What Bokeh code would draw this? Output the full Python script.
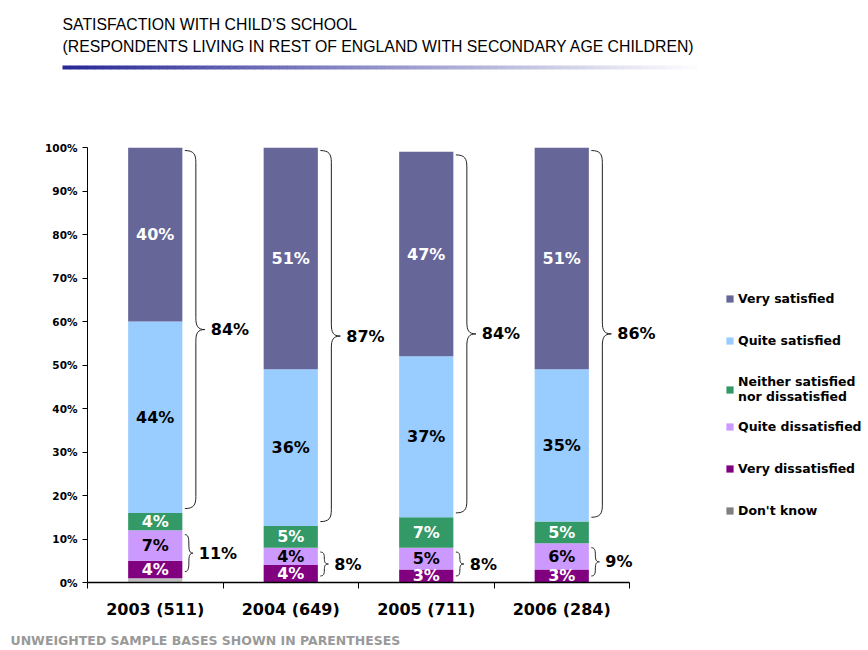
from bokeh.plotting import figure
from bokeh.models import (Range1d, FixedTicker, PrintfTickFormatter, Legend,
                          LegendItem, ColumnDataSource)
from bokeh.layouts import column
from bokeh.core.properties import value
from bokeh.embed import file_html
from bokeh.resources import INLINE

# ---------------- data ----------------
title_line1 = "SATISFACTION WITH CHILD’S SCHOOL"
title_line2 = "(RESPONDENTS LIVING IN REST OF ENGLAND WITH SECONDARY AGE CHILDREN)"
footnote = "UNWEIGHTED SAMPLE BASES SHOWN IN PARENTHESES"

categories = ["2003 (511)", "2004 (649)", "2005 (711)", "2006 (284)"]

dont_know = [1, 0, 0, 0]
very_dissatisfied = [4, 4, 3, 3]
quite_dissatisfied = [7, 4, 5, 6]
neither = [4, 5, 7, 5]
quite_satisfied = [44, 36, 37, 35]
very_satisfied = [40, 51, 47, 51]

series_keys = ["dk", "vd", "qd", "ne", "qs", "vs"]
series_names = ["Don't know", "Very dissatisfied", "Quite dissatisfied",
                "Neither satisfied\nnor dissatisfied", "Quite satisfied",
                "Very satisfied"]
series_values = [dont_know, very_dissatisfied, quite_dissatisfied, neither,
                 quite_satisfied, very_satisfied]

y_ticks = [0, 10, 20, 30, 40, 50, 60, 70, 80, 90, 100]

# ---------------- style ----------------
bar_colors = ["#C0C0C0", "#800080", "#CC99FF", "#339966", "#99CCFF", "#666699"]
legend_dk_color = "#808080"
label_colors = [None, "#FFFFFF", "#000000", "#FFFFFF", "#000000", "#FFFFFF"]
BOLD = value("DejaVu Sans")

W = 866
HEADER_H = 78
FRAME_L = 87
FRAME_T = 69            # inside the main figure
FRAME_H = 435
BOTTOM_B = 42
MAIN_H = FRAME_T + FRAME_H + BOTTOM_B
FOOT_H = 25
CAT_PX = 135.5          # pixels per category
BAR_W = 0.4
XMAX = (W - FRAME_L) / CAT_PX
Y_PX = FRAME_H / 100.0  # pixels per percent

# ---------------- header ----------------
hdr = figure(width=W, height=HEADER_H, x_range=Range1d(0, W),
             y_range=Range1d(HEADER_H, 0), output_backend="svg",
             toolbar_location=None, x_axis_type=None, y_axis_type=None,
             min_border=0, outline_line_color=None, frame_align=False)
hdr.text(x=[62, 62], y=[24, 46], text=[title_line1, title_line2],
         text_font=value("Liberation Sans"), text_font_size="15.8px",
         text_color="#000000", text_baseline="alphabetic", text_align="left")

n_steps = 80
g_x0, g_x1 = 62, 705
step = (g_x1 - g_x0) / n_steps
c0 = (40, 40, 150)
lefts, rights, gcols = [], [], []
for i in range(n_steps):
    t = i / (n_steps - 1)
    col = tuple(int(round(c0[k] + (255 - c0[k]) * t)) for k in range(3))
    lefts.append(g_x0 + i * step)
    rights.append(g_x0 + (i + 1) * step + 0.5)
    gcols.append("#%02x%02x%02x" % col)
hdr.quad(left=lefts, right=rights, top=[65] * n_steps, bottom=[69] * n_steps,
         fill_color=gcols, line_color=None)

# ---------------- main chart ----------------
p = figure(width=W, height=MAIN_H, x_range=Range1d(0, XMAX),
           y_range=Range1d(0, 100), output_backend="svg",
           toolbar_location=None, min_border_left=FRAME_L, min_border_right=0,
           min_border_top=FRAME_T, min_border_bottom=BOTTOM_B,
           outline_line_color=None, frame_align=False)
p.xgrid.visible = False
p.ygrid.visible = False

xc = [i + 0.5 for i in range(len(categories))]
data = {"x": xc}
for k, vals in zip(series_keys, series_values):
    data[k] = vals
source = ColumnDataSource(data)

renderers = p.vbar_stack(series_keys, x="x", width=BAR_W, fill_color=bar_colors,
                         line_color=None, source=source)

# segment labels
lx, ly, lt, lc = [], [], [], []
for ci in range(len(categories)):
    bottom = 0
    for si, vals in enumerate(series_values):
        v = vals[ci]
        if label_colors[si] is not None and v > 0:
            lx.append(xc[ci])
            ly.append(bottom + v / 2.0)
            lt.append("%d%%" % v)
            lc.append(label_colors[si])
        bottom += v
p.text(x=lx, y=ly, text=lt, text_color=lc, text_font=BOLD,
       text_font_style="bold", text_font_size="16px", text_align="center",
       text_baseline="middle")

# braces
bz = {k: [] for k in ["x0", "y0", "x1", "y1", "cx0", "cy0", "cx1", "cy1"]}
sg = {k: [] for k in ["x0", "y0", "x1", "y1"]}
bl_x, bl_y, bl_t = [], [], []


def add_bez(a, b, c, d):
    bz["x0"].append(a[0]); bz["y0"].append(a[1])
    bz["x1"].append(b[0]); bz["y1"].append(b[1])
    bz["cx0"].append(c[0]); bz["cy0"].append(c[1])
    bz["cx1"].append(d[0]); bz["cy1"].append(d[1])


def brace(xcen, ylo, yhi, dxm_px, dxt_px, total):
    xs = xcen + BAR_W / 2 + 2.5 / CAT_PX
    xm = xs + dxm_px / CAT_PX
    xt = xs + dxt_px / CAT_PX
    ym = (ylo + yhi) / 2.0
    r = min(12 / Y_PX, (yhi - ylo) / 4.0)
    add_bez((xs, yhi), (xm, yhi - r), (xs + 0.8 * (xm - xs), yhi), (xm, yhi - 0.3 * r))
    add_bez((xm, ym + r), (xt, ym), (xm, ym + 0.3 * r), (xm + 0.2 * (xt - xm), ym))
    add_bez((xt, ym), (xm, ym - r), (xm + 0.2 * (xt - xm), ym), (xm, ym - 0.3 * r))
    add_bez((xm, ylo + r), (xs, ylo), (xm, ylo + 0.3 * r), (xs + 0.8 * (xm - xs), ylo))
    sg["x0"] += [xm, xm]; sg["x1"] += [xm, xm]
    sg["y0"] += [yhi - r, ym - r]; sg["y1"] += [ym + r, ylo + r]
    bl_x.append(xt + 6 / CAT_PX)
    bl_y.append(ym)
    bl_t.append("%d%%" % total)


for ci in range(len(categories)):
    dk = dont_know[ci]
    low_top = dk + very_dissatisfied[ci] + quite_dissatisfied[ci]
    high_bot = low_top + neither[ci]
    high_top = high_bot + quite_satisfied[ci] + very_satisfied[ci]
    brace(xc[ci], high_bot + 1.0, high_top - 0.7, 11, 20,
          quite_satisfied[ci] + very_satisfied[ci])
    brace(xc[ci], dk + 1.5, low_top - 1.0, 4, 8,
          very_dissatisfied[ci] + quite_dissatisfied[ci])

p.bezier(x0=bz["x0"], y0=bz["y0"], x1=bz["x1"], y1=bz["y1"], cx0=bz["cx0"],
         cy0=bz["cy0"], cx1=bz["cx1"], cy1=bz["cy1"], line_color="#222222",
         line_width=1)
p.segment(x0=sg["x0"], y0=sg["y0"], x1=sg["x1"], y1=sg["y1"],
          line_color="#222222", line_width=1)
p.text(x=bl_x, y=bl_y, text=bl_t, text_color="#000000", text_font=BOLD,
       text_font_style="bold", text_font_size="16px", text_align="left",
       text_baseline="middle")

# axes
p.yaxis.ticker = FixedTicker(ticks=y_ticks)
p.yaxis.formatter = PrintfTickFormatter(format="%d%%")
p.yaxis.major_label_text_font = "DejaVu Sans"
p.yaxis.major_label_text_font_style = "bold"
p.yaxis.major_label_text_font_size = "10.5px"
p.yaxis.major_label_text_color = "#000000"
p.yaxis.major_tick_out = 5
p.yaxis.major_tick_in = 0
p.yaxis.minor_tick_line_color = None
p.yaxis.axis_line_color = "#000000"
p.yaxis.major_tick_line_color = "#000000"
p.yaxis.major_label_standoff = 5

p.xaxis.ticker = FixedTicker(ticks=xc, minor_ticks=list(range(len(categories) + 1)))
p.xaxis.major_label_overrides = {xc[i]: categories[i] for i in range(len(categories))}
p.xaxis.bounds = (0, len(categories))
p.xaxis.major_tick_out = 0
p.xaxis.major_tick_in = 0
p.xaxis.major_tick_line_color = None
p.xaxis.minor_tick_out = 6
p.xaxis.minor_tick_in = 0
p.xaxis.minor_tick_line_color = "#000000"
p.xaxis.axis_line_color = "#000000"
p.xaxis.axis_line_width = 1.5
p.xaxis.major_label_text_font = "DejaVu Sans"
p.xaxis.major_label_text_font_style = "bold"
p.xaxis.major_label_text_font_size = "16px"
p.xaxis.major_label_text_color = "#000000"
p.xaxis.major_label_standoff = 11

# legend
dk_src = ColumnDataSource({"x": xc[:1], "top": dont_know[:1], "bottom": dont_know[:1]})
dk_legend = p.vbar(x="x", top="top", bottom="bottom", width=BAR_W,
                   fill_color=legend_dk_color, line_color=None, source=dk_src)
leg_renderers = [dk_legend] + list(renderers[1:])
items = [LegendItem(label=series_names[i], renderers=[leg_renderers[i]])
         for i in range(len(series_names))][::-1]


def make_legend(its, loc):
    lg = Legend(items=its, location=loc, padding=0, margin=0, spacing=26,
                glyph_width=9, glyph_height=9, label_standoff=4,
                label_height=16, label_text_font="DejaVu Sans",
                label_text_font_style="bold", label_text_font_size="12.5px",
                label_text_color="#000000", border_line_color=None,
                background_fill_alpha=0)
    p.add_layout(lg)
    return lg


make_legend(items[:3], (638, 178))
make_legend(items[3:], (638, 64))

# ---------------- footer ----------------
ftr = figure(width=W, height=FOOT_H, x_range=Range1d(0, W),
             y_range=Range1d(FOOT_H, 0), output_backend="svg",
             toolbar_location=None, x_axis_type=None, y_axis_type=None,
             min_border=0, outline_line_color=None, frame_align=False)
ftr.text(x=[10], y=[16], text=[footnote], text_font=BOLD,
         text_font_style="bold", text_font_size="12.5px", text_color="#999999",
         text_baseline="alphabetic", text_align="left")

layout = column(hdr, p, ftr, spacing=0)
open("out.html", "w").write(file_html(layout, INLINE))
